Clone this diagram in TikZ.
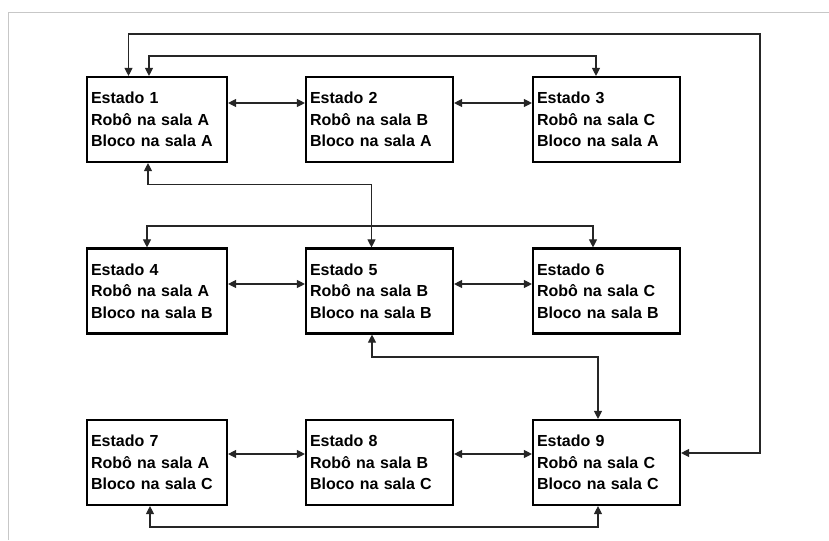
\documentclass[tikz,border=0pt]{standalone}
\usepackage{fontspec}
\setmainfont{Liberation Sans}
\usetikzlibrary{calc,arrows.meta}

\tikzset{
  estado/.style={draw, rectangle, line width=1.6pt, minimum height=63.75pt,
    text width=#1, inner xsep=3pt, inner ysep=0pt, align=left,
    font=\bfseries\fontsize{12}{16}\selectfont},
  liga/.style={black!85, line width=0.8pt,
    {Triangle[length=6pt,width=6pt]}-{Triangle[length=6pt,width=6pt]}},
}

\begin{document}
\begin{tikzpicture}[x=0.75pt,y=-0.75pt]
  \useasboundingbox (0,0) rectangle (829,540);
  \draw[black!22, line width=0.75pt] (8,540) -- (8,12) -- (829,12);

  % estados
  \node[estado=99pt]     (s1) at (157,119.5)   {Estado 1\\Robô na sala A\\Bloco na sala A};
  \node[estado=104.25pt] (s2) at (379.5,119.5) {Estado 2\\Robô na sala B\\Bloco na sala A};
  \node[estado=104.25pt] (s3) at (606.5,119.5) {Estado 3\\Robô na sala C\\Bloco na sala A};
  \node[estado=99pt]     (s4) at (157,291)     {Estado 4\\Robô na sala A\\Bloco na sala B};
  \node[estado=104.25pt] (s5) at (379.5,291)   {Estado 5\\Robô na sala B\\Bloco na sala B};
  \node[estado=104.25pt] (s6) at (606.5,291)   {Estado 6\\Robô na sala C\\Bloco na sala B};
  \node[estado=99pt]     (s7) at (157,462.5)   {Estado 7\\Robô na sala A\\Bloco na sala C};
  \node[estado=104.25pt] (s8) at (379.5,462.5) {Estado 8\\Robô na sala B\\Bloco na sala C};
  \node[estado=104.25pt] (s9) at (606.5,462.5) {Estado 9\\Robô na sala C\\Bloco na sala C};

  % cantos
  \coordinate (k19) at (760,34);
  \coordinate (k13) at (596,56);
  \coordinate (k15) at (371.5,184.5);
  \coordinate (k46) at (593,226);
  \coordinate (k59) at (598,357);
  \coordinate (k79) at (598,527);

  % ligacoes na mesma linha
  \draw[liga] ($(s1.east)+(0,-16.5)$) -- ($(s2.west)+(0,-16.5)$);
  \draw[liga] ($(s2.east)+(0,-16.5)$) -- ($(s3.west)+(0,-16.5)$);
  \draw[liga] ($(s4.east)+(0,-7)$) -- ($(s5.west)+(0,-7)$);
  \draw[liga] ($(s5.east)+(0,-7)$) -- ($(s6.west)+(0,-7)$);
  \draw[liga] ($(s7.east)+(0,-8.5)$) -- ($(s8.west)+(0,-8.5)$);
  \draw[liga] ($(s8.east)+(0,-8.5)$) -- ($(s9.west)+(0,-8.5)$);

  % ligacoes em volta
  \draw[liga] ($(s1.north)+(-28.5,0)$) |- (k19) |- ($(s9.east)+(0,-9.5)$);
  \draw[liga] ($(s1.north)+(-8,0)$) |- (k13) -- ($(s3.north)+(-10.5,0)$);
  \draw[liga] ($(s1.south)+(-9,0)$) |- (k15) -- ($(s5.north)+(-8,0)$);
  \draw[liga] ($(s4.north)+(-10,0)$) |- (k46) -- ($(s6.north)+(-13.5,0)$);
  \draw[liga] ($(s5.south)+(-7.5,0)$) |- (k59) -- ($(s9.north)+(-8.5,0)$);
  \draw[liga] ($(s7.south)+(-7,0)$) |- (k79) -- ($(s9.south)+(-8.5,0)$);
\end{tikzpicture}
\end{document}
